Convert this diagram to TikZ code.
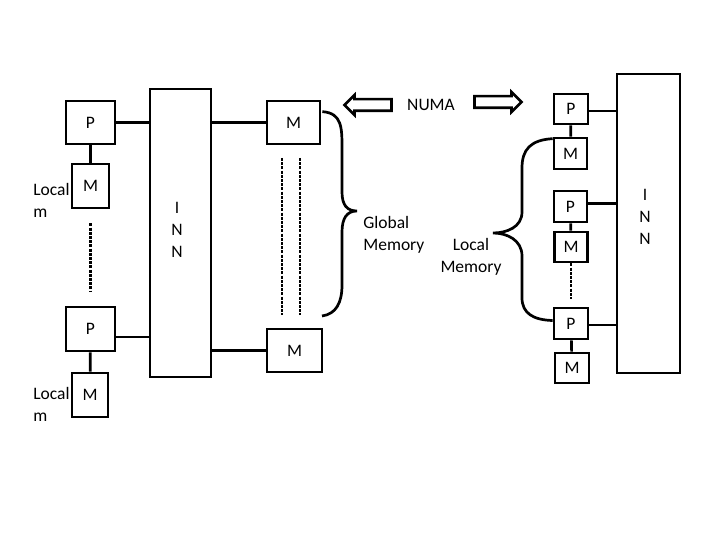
\documentclass[tikz,border=0pt]{standalone}
\usepackage{fontspec}
\setmainfont{Carlito}
\usetikzlibrary{shapes.arrows,calc}

\begin{document}
\begin{tikzpicture}[x=1pt,y=-1pt,line width=2.7pt,
  box/.style={draw, inner sep=0pt},
  dots/.style={line width=2.6pt, dash pattern=on 3pt off 1.2pt},
  fatarrow/.style={single arrow, draw, inner xsep=0pt, inner ysep=4.5pt,
    minimum height=47pt, single arrow head extend=4pt, single arrow head indent=0pt},
  every node/.style={font=\fontsize{17.5}{22}\selectfont}]
\useasboundingbox (0,0) rectangle (720,540);

% left machine
\node[box, minimum width=49pt, minimum height=43pt] (p1) at (90.5,122.5) {P};
\node[box, minimum width=37pt, minimum height=44pt] (lm1) at (90.5,186) {M};
\node[box, minimum width=49pt, minimum height=44pt] (p2) at (90.5,329) {P};
\node[box, minimum width=36pt, minimum height=44pt] (lm2) at (90,395) {M};
\node[box, minimum width=61pt, minimum height=288pt, align=center] (inl) at (180.5,233) {};
\node[align=center] (inltxt) at (177,230) {I\\N\\N};
\node[box, minimum width=53pt, minimum height=43pt] (mt) at (293.5,122.5) {M};
\node[box, minimum width=55pt, minimum height=43pt] (mb) at (294.5,350.5) {M};
\node[align=left, anchor=west, inner xsep=0pt] (loc1) at (32,200.5) {Local\\m};
\node[align=left, anchor=west, inner xsep=0pt] (loc2) at (32,404) {Local\\m};

\draw (p1) -- (lm1);
\draw (p2) -- (lm2);
\draw (p1.east) -- (inl.west |- p1.east);
\draw ($(p2.east)+(0,8)$) -- ($(inl.west |- p2.east)+(0,8)$);
\draw (inl.east |- mt.west) -- (mt.west);
\draw (inl.east |- mb.west) -- (mb.west);
\draw[dots] ($(lm1.south)+(0,14)$) -- ($(p2.north)+(0,-15)$);

\coordinate (d1a) at (282,158);
\coordinate (d1b) at (282,315);
\coordinate (d2a) at (300,158);
\coordinate (d2b) at (300,315);
\draw[dots] (d1a) -- (d1b);
\draw[dots] (d2a) -- (d2b);

% global memory brace
\coordinate (gtip) at (357,211);
\coordinate (gend) at (322,316);
\draw ($(mt.north east)+(1,12)$) .. controls (342,113) and (342,128) .. (342,148)
  -- (342,192) .. controls (342,205) and (347,211) .. (gtip)
  .. controls (347,211) and (342,218) .. (342,232) -- (342,285)
  .. controls (342,303) and (336,314) .. (gend);
\node[align=left, anchor=west, inner xsep=0pt] (glob) at (362,235) {Global\\Memory};

% NUMA
\node (numa) at (431,105) {NUMA};
\node[fatarrow, shape border rotate=180] (larrow) at (371,105) {};
\node[fatarrow] (rarrow) at (495,102) {};

% right machine
\node[box, minimum width=63pt, minimum height=299pt] (inr) at (648.5,223.5) {};
\node[align=center] (inrtxt) at (645,217) {I\\N\\N};
\node[box, minimum width=34pt, minimum height=30pt] (pr1) at (571,109) {P};
\node[box, minimum width=33pt, minimum height=31pt] (mr1) at (570.5,153.5) {M};
\node[box, minimum width=33pt, minimum height=31pt] (pr2) at (570.5,206.5) {P};
\node[box, minimum width=33pt, minimum height=30pt] (mr2) at (571,247) {M};
\node[box, minimum width=34pt, minimum height=31pt] (pr3) at (571,323.5) {P};
\node[box, minimum width=34pt, minimum height=30pt] (mr3) at (572,368) {M};

\draw (pr1) -- (mr1);
\draw (pr2) -- (mr2);
\draw (pr3) -- (mr3);
\draw ($(pr1.east)+(0,2)$) -- ($(inr.west |- pr1.east)+(0,2)$);
\draw ($(pr2.east)+(0,-3)$) -- ($(inr.west |- pr2.east)+(0,-3)$);
\draw ($(pr3.east)+(0,1.5)$) -- ($(inr.west |- pr3.east)+(0,1.5)$);
\draw[dots] (mr2.south) -- ($(pr3.north)+(0,-8)$);

% local memory brace
\coordinate (ltip) at (493,233);
\draw ($(mr1.north west)+(0,2)$) .. controls (530,140) and (522,150) .. (522,168)
  -- (522,212) .. controls (522,227) and (507,233) .. (ltip)
  .. controls (507,233) and (522,240) .. (522,256) -- (522,298)
  .. controls (522,313) and (533,320) .. ($(pr3.west)+(0,-3)$);
\node[align=center] (lmem) at (471,257) {Local\\Memory};
\end{tikzpicture}
\end{document}
